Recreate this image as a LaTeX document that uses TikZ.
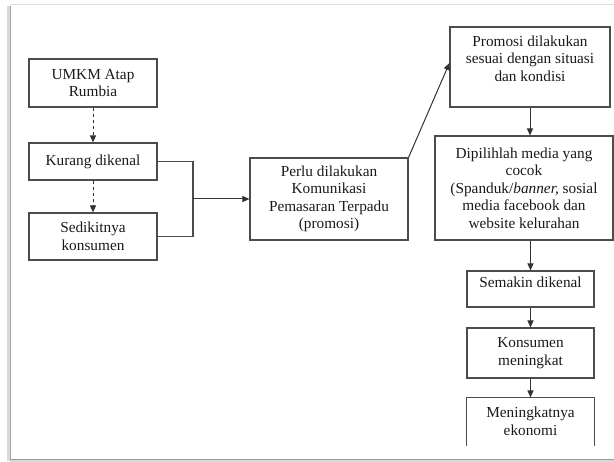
\documentclass[tikz,border=0pt]{standalone}
\usepackage{fontspec}
\setmainfont{Liberation Serif}
\usetikzlibrary{arrows.meta}

\tikzset{
	kotak/.style={draw=black!70, line width=1.1pt, inner sep=0pt, align=center,
		text=black!90, font=\fontsize{15.3}{17.5}\selectfont},
	panah/.style={draw=black!80, line width=1pt, -{Triangle[length=7pt,width=6pt]}},
	garis/.style={draw=black!70, line width=1.1pt}
}

\begin{document}
\begin{tikzpicture}[x=1pt,y=-1pt]
		\useasboundingbox (0,0) rectangle (614,462);
		% bingkai
		\draw[black!12, line width=1pt] (10,5) -- (614,5);
		\draw[black!15, line width=2.5pt] (8.5,6) -- (8.5,461);
		\draw[black!35, line width=1pt] (10,6) -- (10,460);
		\draw[black!15, line width=2.5pt] (10,461.5) -- (614,461.5);
		\draw[black!40, line width=1pt] (10,460) -- (614,460);
		% kotak kiri
		\node[kotak, minimum width=128pt, minimum height=48pt] (umkm) at (93,83) {UMKM Atap\\Rumbia};
		\node[kotak, minimum width=128pt, minimum height=37pt] (kurang) at (93,161.5) {Kurang dikenal};
		\node[kotak, minimum width=128pt, minimum height=47pt] (sedikit) at (93,236.5) {Sedikitnya\\konsumen};
		\node[kotak, minimum width=158pt, minimum height=82pt] (perlu) at (329,199) {Perlu dilakukan\\Komunikasi\\Pemasaran Terpadu\\(promosi)};
		% kotak kanan
		\node[kotak, minimum width=160pt, minimum height=80pt] (promosi) at (530,67) {Promosi dilakukan\\sesuai dengan situasi\\dan kondisi\\\mbox{}};
		\node[kotak, minimum width=178pt, minimum height=104pt] (pilih) at (524,188) {Dipilihlah media yang\\cocok\\(Spanduk/\textit{banner,} sosial\\media facebook dan\\website kelurahan};
		\node[kotak, minimum width=127pt, minimum height=36pt] (semakin) at (530.5,289) {Semakin dikenal\\[-3pt]\mbox{}};
		\node[kotak, minimum width=127pt, minimum height=50pt] (konsumen) at (530.5,353) {Konsumen\\meningkat};
		\node[kotak, draw=none, minimum width=127pt, minimum height=47pt] (ekonomi) at (530.5,421.5) {Meningkatnya\\ekonomi};
		\draw[garis] (ekonomi.south west) -- (ekonomi.north west) -- (ekonomi.north east) -- (ekonomi.south east);
		% panah
		\draw[panah, dashed] (umkm) -- (kurang);
		\draw[panah, dashed] (kurang) -- (sedikit);
		\coordinate (gabung) at (193,199);
		\draw[garis] (kurang.east) -| (gabung);
		\draw[garis] (sedikit.east) -| (gabung);
		\draw[panah] (gabung) -- (perlu.west);
		\draw[panah] (perlu.north east) -- ([yshift=4pt]promosi.west);
		\draw[panah] (promosi.south) -- (promosi.south |- pilih.north);
		\draw[panah] (semakin.north |- pilih.south) -- (semakin.north);
		\draw[panah] (semakin) -- (konsumen);
		\draw[panah] (konsumen) -- (ekonomi.north);
	\end{tikzpicture}
\end{document}
